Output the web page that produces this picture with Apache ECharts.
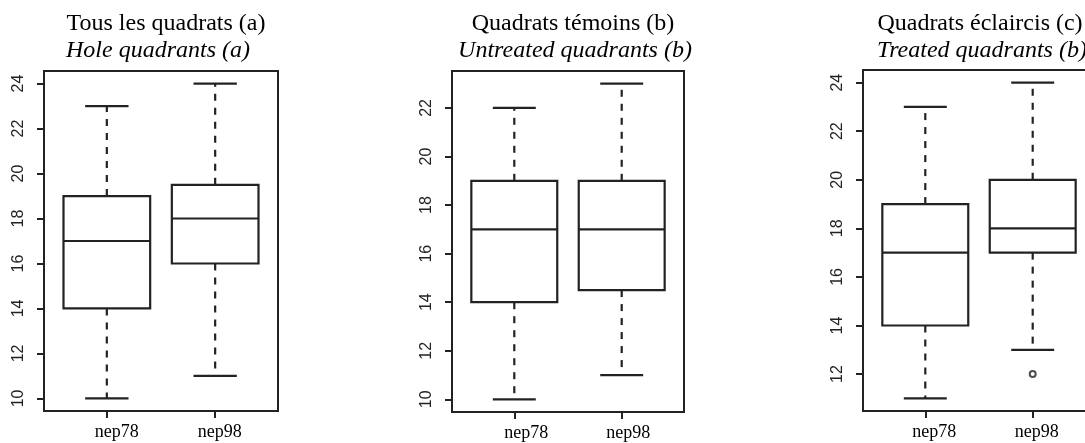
<!DOCTYPE html>
<html>
<head>
<meta charset="utf-8">
<script src="https://cdn.jsdelivr.net/npm/echarts@6/dist/echarts.min.js"></script>
<style>
html,body{margin:0;padding:0;background:#fff;}
#chart{width:1085px;height:443px;}
</style>
</head>
<body>
<div id="chart"></div>
<script>
// ---- data ----
const categories = ['nep78', 'nep98'];
const titlesFr = ['Tous les quadrats (a)', 'Quadrats témoins (b)', 'Quadrats éclaircis (c)'];
const titlesEn = ['Hole quadrants (a)', 'Untreated quadrants (b)', 'Treated quadrants (b)'];
// [min, Q1, median, Q3, max]
const panelA = [[10, 14, 17, 19, 23], [11, 16, 18, 19.5, 24]];
const panelB = [[10, 14, 17, 19, 22], [11, 14.5, 17, 19, 23]];
const panelC = [[11, 14, 17, 19, 23], [13, 17, 18, 20, 24]];
const outliersC = [[2, 12]];
const yTicksA = [10, 12, 14, 16, 18, 20, 22, 24];
const yTicksB = [10, 12, 14, 16, 18, 20, 22];
const yTicksC = [12, 14, 16, 18, 20, 22, 24];

// ---- layout ----
const panels = [
  { data: panelA, ticks: yTicksA, grid: { left: 44, top: 71, width: 234, height: 340 }, tx1: 166, tx2: 158, lab: [20, 9] },
  { data: panelB, ticks: yTicksB, grid: { left: 452, top: 71, width: 232, height: 341 }, tx1: 573, tx2: 575, lab: [24, 13] },
  { data: panelC, ticks: yTicksC, grid: { left: 863, top: 70, width: 232, height: 341 }, tx1: 980, tx2: 982, lab: [18, 8] }
];

function rRange(stats, extra) {
  let lo = Infinity, hi = -Infinity;
  stats.forEach(s => { lo = Math.min(lo, s[0]); hi = Math.max(hi, s[4]); });
  (extra || []).forEach(p => { lo = Math.min(lo, p[1]); hi = Math.max(hi, p[1]); });
  const pad = (hi - lo) * 0.04;
  return [lo - pad, hi + pad];
}

const LINE = '#222';
const grids = [], xAxes = [], yAxes = [], series = [], graphics = [];

panels.forEach((p, i) => {
  grids.push(Object.assign({ show: true, borderColor: LINE, borderWidth: 2, backgroundColor: 'transparent', outerBoundsMode: 'none', containLabel: false }, p.grid));
  const labFont = { fontFamily: 'Liberation Serif', fontSize: 18, color: '#000' };
  xAxes.push({
    type: 'value', gridIndex: i, min: 0.42, max: 2.58,
    splitLine: { show: false }, axisLine: { show: false },
    axisTick: { show: true, length: 7, customValues: [1, 2], lineStyle: { color: LINE, width: 2 } },
    axisLabel: {
      customValues: [1, 2], margin: 12,
      formatter: v => (Math.round(v) === 1 ? '{a|' : '{b|') + (categories[Math.round(v) - 1] || '') + '}',
      rich: {
        a: Object.assign({ padding: [0, 0, 0, p.lab[0]] }, labFont),
        b: Object.assign({ padding: [0, 0, 0, p.lab[1]] }, labFont)
      },
      fontFamily: 'Liberation Serif', fontSize: 18, color: '#000'
    }
  });
  const rng = rRange(p.data, i === 2 ? outliersC : []);
  yAxes.push({
    type: 'value', gridIndex: i, min: rng[0], max: rng[1],
    splitLine: { show: false }, axisLine: { show: false },
    axisTick: { show: true, length: 7, customValues: p.ticks, lineStyle: { color: LINE, width: 2 } },
    axisLabel: {
      customValues: p.ticks, rotate: 90, margin: 17,
      fontFamily: 'Liberation Sans', fontSize: 16, color: '#222'
    }
  });
  series.push({
    type: 'custom', xAxisIndex: i, yAxisIndex: i,
    data: p.data.map((s, k) => [k + 1].concat(s)),
    encode: { x: 0, y: [1, 2, 3, 4, 5] },
    renderItem: function (params, api) {
      const x = api.value(0);
      const mn = api.value(1), q1 = api.value(2), md = api.value(3), q3 = api.value(4), mx = api.value(5);
      const L = api.coord([x - 0.4, q1])[0], R = api.coord([x + 0.4, q1])[0];
      const cL = api.coord([x - 0.2, q1])[0], cR = api.coord([x + 0.2, q1])[0];
      const cx = api.coord([x, q1])[0];
      const yMin = api.coord([x, mn])[1], yQ1 = api.coord([x, q1])[1], yMd = api.coord([x, md])[1];
      const yQ3 = api.coord([x, q3])[1], yMax = api.coord([x, mx])[1];
      const st = { stroke: LINE, lineWidth: 2.2, fill: null };
      const dash = { stroke: LINE, lineWidth: 2.2, lineDash: [7, 7] };
      return {
        type: 'group',
        children: [
          { type: 'line', shape: { x1: cx, y1: yQ3, x2: cx, y2: yMax }, style: dash },
          { type: 'line', shape: { x1: cx, y1: yQ1, x2: cx, y2: yMin }, style: dash },
          { type: 'line', shape: { x1: cL, y1: yMax, x2: cR, y2: yMax }, style: st },
          { type: 'line', shape: { x1: cL, y1: yMin, x2: cR, y2: yMin }, style: st },
          { type: 'rect', shape: { x: L, y: yQ3, width: R - L, height: yQ1 - yQ3 }, style: { stroke: LINE, lineWidth: 2.2, fill: '#fff' } },
          { type: 'line', shape: { x1: L, y1: yMd, x2: R, y2: yMd }, style: st }
        ]
      };
    }
  });
  graphics.push({
    type: 'text', x: p.tx1, y: 24,
    style: { text: titlesFr[i], fontFamily: 'Liberation Serif', fontSize: 24, fill: '#000', textAlign: 'center', textVerticalAlign: 'middle' }
  });
  graphics.push({
    type: 'text', x: p.tx2, y: 51,
    style: { text: titlesEn[i], fontFamily: 'Liberation Serif', fontStyle: 'italic', fontSize: 24, fill: '#000', textAlign: 'center', textVerticalAlign: 'middle' }
  });
});

series.push({
  type: 'scatter', xAxisIndex: 2, yAxisIndex: 2,
  data: outliersC, symbol: 'emptyCircle', symbolSize: 6,
  itemStyle: { color: LINE, borderColor: LINE, borderWidth: 1.5 }
});

const chart = echarts.init(document.getElementById('chart'), null, { renderer: 'canvas' });
chart.setOption({
  animation: false,
  backgroundColor: '#fff',
  grid: grids, xAxis: xAxes, yAxis: yAxes, series: series,
  graphic: graphics
});
</script>
</body>
</html>
